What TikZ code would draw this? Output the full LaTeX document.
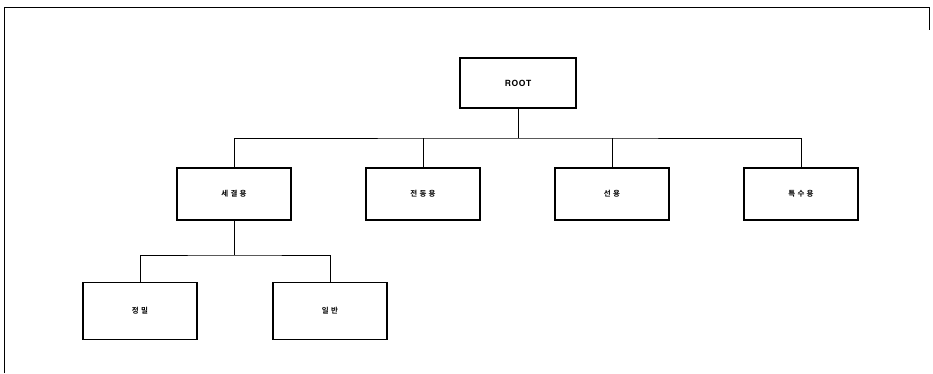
\documentclass[tikz,border=0pt]{standalone}
\usepackage{fontspec}
\newfontfamily\kr{Noto Sans CJK KR}[BoldFont={* Bold},LetterSpace=30]
\newfontfamily\lat{TeX Gyre Heros}[LetterSpace=8]
\begin{document}
\begin{tikzpicture}[x=1pt,y=-1pt,
  box/.style={draw=black,line width=1.4pt,minimum width=114pt,minimum height=52pt,inner sep=0pt,font=\kr\bfseries\fontsize{7.5}{8}\selectfont},
  conn/.style={draw=black,line width=1pt}]
\useasboundingbox (0,0) rectangle (933,373);
\draw[line width=0.8pt] (4,373) -- (4,7) -- (929,7) -- (929,30);
\node[box,minimum width=116pt,minimum height=50pt,font=\lat\bfseries\fontsize{8.5}{9}\selectfont] (root) at (518,83) {ROOT};
\node[box] (a) at (234,194) {세결용};
\node[box] (b) at (423,194) {전동용};
\node[box] (c) at (612,194) {선용};
\node[box] (d) at (801,194) {특수용};
\node[box,minimum height=57pt] (e) at (140,311) {정밀};
\node[box,minimum height=57pt] (f) at (330,311) {일반};
\coordinate (j1) at (518,138);
\coordinate (j2) at (234,255);
\draw[conn] (root.south) -- (j1);
\draw[conn] (a.north) |- (j1) -| (d.north);
\draw[conn] (b.north) -- (b.north |- j1);
\draw[conn] (c.north) -- (c.north |- j1);
\draw[conn] (a.south) -- (j2);
\draw[conn] (e.north) |- (j2) -| (f.north);
\end{tikzpicture}
\end{document}
